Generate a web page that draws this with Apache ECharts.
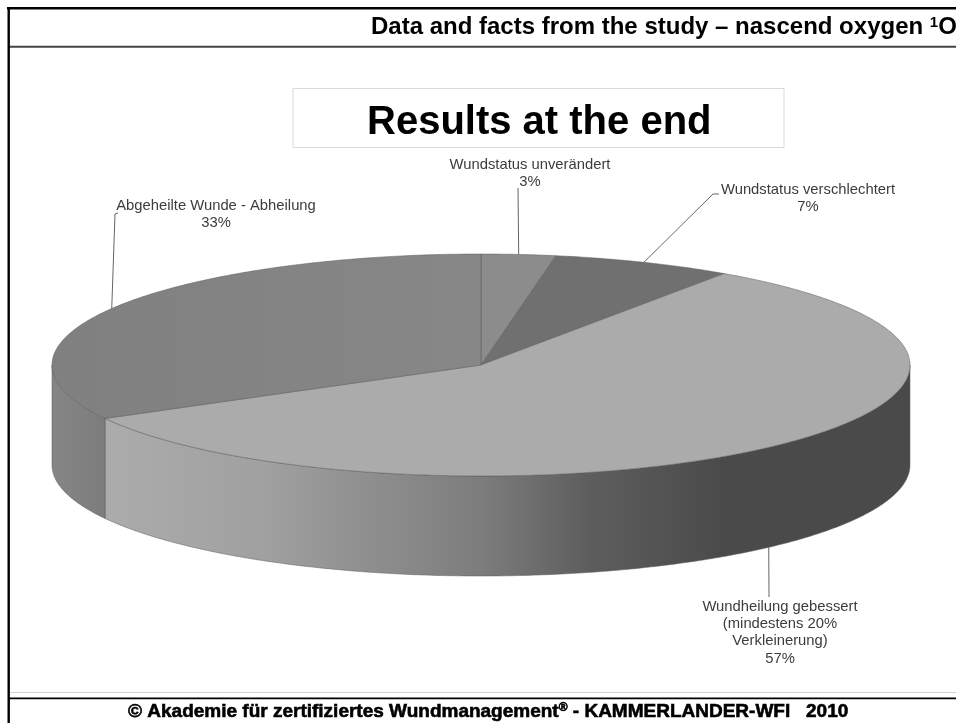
<!DOCTYPE html>
<html><head><meta charset="utf-8">
<style>html,body{margin:0;padding:0;background:#fff}#c{width:956px;height:723px}</style>
<script src="https://cdn.jsdelivr.net/npm/echarts@6/dist/echarts.min.js"></script>
</head><body><div id="c"></div>
<script>
const categories = ['Wundstatus unverändert','Wundstatus verschlechtert','Wundheilung gebessert\n(mindestens 20%\nVerkleinerung)','Abgeheilte Wunde - Abheilung'];
const values = [2.8, 6.8, 57.4, 33.0];

const FONT = '"Liberation Sans", Arial, sans-serif';
const geo = {cx:481, cy:365, rx:429, ry:111, depth:100};
const total = values.reduce((a,b)=>a+b,0);
const grad = (x0,x1,stops)=>new echarts.graphic.LinearGradient(x0,0,x1,0,stops.map(s=>({offset:s[0],color:s[1]})),true);
const sliceStyle = [
  {top:'#8c8c8c'},
  {top:'#707070'},
  {top:'#ababab', side:grad(104,910,[[0,'#acacac'],[0.2,'#a0a0a0'],[0.47,'#7c7c7c'],[0.6,'#5e5e5e'],[0.77,'#4a4a4a'],[1,'#4a4a4a']])},
  {top:grad(52,481,[[0,'#808080'],[1,'#878787']]), side:grad(52,105,[[0,'#868686'],[1,'#7c7c7c']])}
];
// label placement: text centre, first-line y, leader elbow points
const labelLayout = [
  {x:530, y:165, elbow:[[518,188]], onSide:false},
  {x:808, y:190, elbow:[[713,194],[719,194]], onSide:false},
  {x:780, y:607, elbow:[[769,597]], onSide:true},
  {x:216, y:206, elbow:[[115,214],[118,213]], onSide:false}
];
const LINE_H = 17.2;

function pt(f, dy){
  const t = 2*Math.PI*f;
  return [geo.cx + geo.rx*Math.sin(t), geo.cy - geo.ry*Math.cos(t) + (dy||0)];
}
function arc(a,b,dy){
  const n = Math.max(2, Math.ceil((b-a)*600)), out=[];
  for(let i=0;i<=n;i++) out.push(pt(a+(b-a)*i/n, dy));
  return out;
}
function renderSlice(params, api){
  const i = params.dataIndex, v = api.value(0);
  let start = 0;
  for(let k=0;k<i;k++) start += values[k]/total;
  const end = start + v/total, mid = (start+end)/2;
  const st = sliceStyle[i], children = [];
  const edge = {stroke:'#5a5a5a', lineWidth:0.5};

  const a = Math.max(start,0.25), b = Math.min(end,0.75);
  if(b>a){
    const pts = arc(a,b,0).concat(arc(a,b,geo.depth).reverse());
    children.push({type:'polygon', z2:1, shape:{points:pts}, style:Object.assign({fill:st.side},edge)});
  }
  const topPts = [[geo.cx,geo.cy]].concat(arc(start,end,0));
  children.push({type:'polygon', z2:2, shape:{points:topPts}, style:Object.assign({fill:st.top},edge)});

  const L = labelLayout[i];
  const anchor = pt(mid, L.onSide ? geo.depth : 0);
  children.push({type:'polyline', z2:3, shape:{points:[anchor].concat(L.elbow)}, style:{fill:null, stroke:'#555', lineWidth:0.9}});
  const lines = categories[i] + '\n' + Math.round(v) + '%';
  lines.split('\n').forEach((s,k)=>{
    children.push({type:'text', z2:4, style:{x:L.x, y:L.y+k*LINE_H, text:s, align:'center', verticalAlign:'middle', fill:'#3c3c3c', font:'14.8px '+FONT}});
  });
  return {type:'group', children};
}

const option = {
  backgroundColor:'#fff',
  animation:false,
  title:[
    {text:'Data and facts from the study – nascend oxygen {sup|1}O', left:371, top:15, padding:0,
     textStyle:{fontFamily:FONT, fontWeight:'bold', fontSize:24, color:'#000',
       rich:{sup:{fontFamily:FONT, fontWeight:'bold', fontSize:15, color:'#000', verticalAlign:'top', padding:[0,0,6,0]}}}},
    {text:'Results at the end', left:367, top:103, padding:0, textStyle:{fontFamily:FONT, fontWeight:'bold', fontSize:40, color:'#000'}},
    {text:'© Akademie für zertifiziertes Wundmanagement{sup|®} - KAMMERLANDER-WFI   2010', left:128, top:702, padding:0,
     textStyle:{fontFamily:FONT, fontWeight:'bold', fontSize:19, color:'#000', textBorderColor:'#000', textBorderWidth:0.6,
       rich:{sup:{fontFamily:FONT, fontWeight:'bold', fontSize:12, color:'#000', textBorderColor:'#000', textBorderWidth:0.6, verticalAlign:'top', padding:[0,0,6,0]}}}}
  ],
  graphic:[
    {type:'rect', z:-1, shape:{x:293,y:88.5,width:491,height:59}, style:{fill:'#fff', stroke:'#d9d9d9', lineWidth:1}},
    {type:'rect', z:1, shape:{x:8,y:45,width:948,height:1}, style:{fill:'#cfcfcf'}},
    {type:'rect', z:1, shape:{x:8,y:46,width:948,height:1.8}, style:{fill:'#444'}},
    {type:'rect', z:1, shape:{x:10,y:692,width:946,height:1}, style:{fill:'#d4d4d4'}},
    {type:'rect', z:2, shape:{x:7,y:7,width:949,height:2.4}, style:{fill:'#000'}},
    {type:'rect', z:2, shape:{x:7.5,y:7,width:2.4,height:716}, style:{fill:'#000'}},
    {type:'rect', z:2, shape:{x:8,y:697.5,width:948,height:1.8}, style:{fill:'#000'}}
  ],
  series:[{
    type:'custom',
    coordinateSystem:'none',
    silent:true,
    data:values.map((v,i)=>({value:[v],name:categories[i]})),
    renderItem:renderSlice
  }]
};
echarts.init(document.getElementById('c'),null,{renderer:'canvas'}).setOption(option);
</script></body></html>
